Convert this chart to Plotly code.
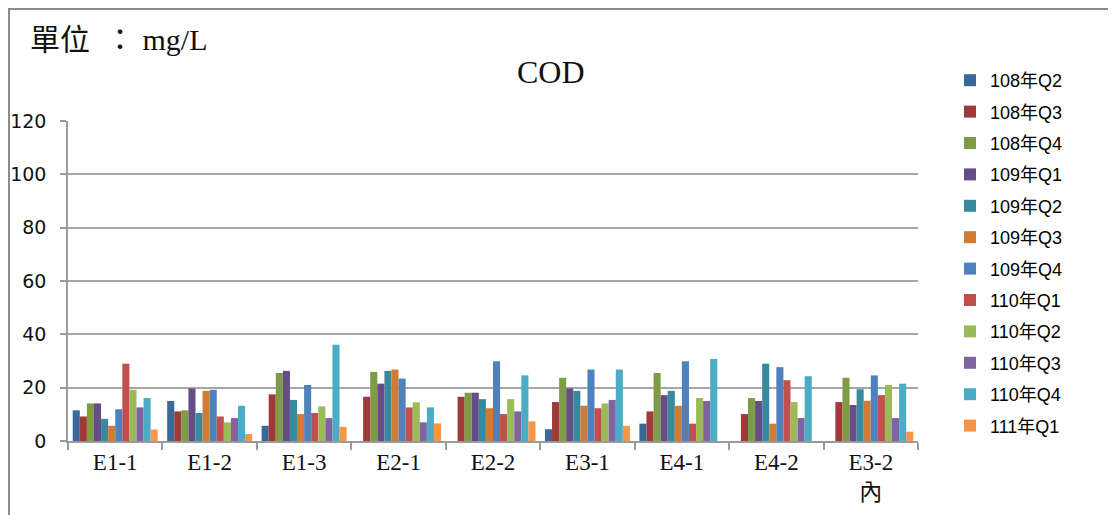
import plotly.graph_objects as go

categories = ["E1-1", "E1-2", "E1-3", "E2-1", "E2-2", "E3-1", "E4-1", "E4-2", "E3-2<br>內"]
series_names = ["108年Q2", "108年Q3", "108年Q4", "109年Q1", "109年Q2", "109年Q3",
                "109年Q4", "110年Q1", "110年Q2", "110年Q3", "110年Q4", "111年Q1"]

y108q2 = [11.5, 15.0, 5.7, None, None, 4.4, 6.5, None, None]
y108q3 = [9.2, 11.1, 17.5, 16.6, 16.6, 14.6, 11.1, 10.1, 14.6]
y108q4 = [14.1, 11.5, 25.5, 25.9, 18.1, 23.7, 25.5, 16.1, 23.7]
y109q1 = [14.1, 19.7, 26.3, 21.5, 18.1, 19.7, 17.2, 15.0, 13.5]
y109q2 = [8.3, 10.5, 15.4, 26.3, 15.7, 18.8, 18.8, 29.0, 19.4]
y109q3 = [5.7, 18.8, 10.1, 26.8, 12.3, 13.2, 13.2, 6.5, 15.1]
y109q4 = [11.9, 19.2, 21.0, 23.4, 29.9, 26.8, 29.9, 27.7, 24.6]
y110q1 = [29.0, 9.2, 10.5, 12.6, 10.1, 12.3, 6.5, 22.8, 17.2]
y110q2 = [19.2, 7.0, 13.0, 14.5, 15.7, 14.1, 16.1, 14.6, 21.0]
y110q3 = [12.6, 8.6, 8.6, 7.0, 11.1, 15.4, 15.0, 8.6, 8.6]
y110q4 = [16.1, 13.2, 36.1, 12.6, 24.6, 26.8, 30.8, 24.3, 21.5]
y111q1 = [4.3, 2.6, 5.3, 6.6, 7.4, 5.7, None, None, 3.5]

series_values = [y108q2, y108q3, y108q4, y109q1, y109q2, y109q3,
                 y109q4, y110q1, y110q2, y110q3, y110q4, y111q1]
colors = ["#3D6699", "#9E3B38", "#7E9B45", "#664D86", "#378A9E", "#D07B36",
          "#4F81BD", "#C0504D", "#9BBB59", "#8064A2", "#4BACC6", "#F79646"]

y_ticks = [0, 20, 40, 60, 80, 100, 120]

fig = go.Figure()
for i, (name, vals) in enumerate(zip(series_names, series_values)):
    fig.add_trace(go.Bar(
        x=categories, y=vals, name=name,
        marker=dict(color=colors[i], line=dict(width=0)),
        legendgroup=f"g{i}",
    ))

# page has an 8px body margin; figure coordinates = page coordinates - 8
OFF = 8
W, H = 1116 - OFF, 515 - OFF
L, R, T, B = 68 - OFF, 1116 - 918, 121 - OFF, 515 - 441
pw, ph = W - L - R, H - T - B

def px_x(px):
    return (px - OFF - L) / pw

def px_y(py):
    return (H - B - (py - OFF)) / ph

fig.update_layout(
    width=W, height=H,
    margin=dict(l=L, r=R, t=T, b=B, autoexpand=False),
    paper_bgcolor="white", plot_bgcolor="white",
    barmode="group", bargap=0.1, bargroupgap=0,
    showlegend=True,
    legend=dict(
        x=px_x(950), xanchor="left", y=px_y(62), yanchor="top",
        font=dict(family="Liberation Sans, Noto Sans CJK TC", size=18, color="#000"),
        tracegroupgap=5, itemwidth=30,
        bgcolor="rgba(0,0,0,0)",
        maxheight=500,
    ),
    xaxis=dict(
        type="category", automargin=False,
        showline=True, linecolor="#9A9A9A", linewidth=1.5,
        ticks="outside", tickson="boundaries", ticklen=7, tickcolor="#9A9A9A", tickwidth=1.5,
        tickfont=dict(family="Liberation Serif, Noto Sans CJK TC", size=23, color="#111"),
        showgrid=False,
    ),
    yaxis=dict(
        range=[0, 120], tickvals=y_ticks, ticktext=[str(v) for v in y_ticks],
        automargin=False,
        showline=True, linecolor="#9A9A9A", linewidth=1.5,
        ticks="outside", ticklen=6, tickcolor="#9A9A9A", tickwidth=1.5,
        showgrid=True, gridcolor="#A6A6A6", gridwidth=1.5,
        tickfont=dict(family="DejaVu Sans", size=19, color="#111"),
        ticklabelstandoff=10,
        zeroline=False,
    ),
    annotations=[
        dict(text="COD", x=px_x(551), y=px_y(72), xref="paper", yref="paper",
             showarrow=False, xanchor="center", yanchor="middle",
             font=dict(family="Liberation Serif", size=32, color="#111")),
        dict(text="單位\u00a0\u00a0：\u00a0mg/L", x=px_x(28), y=px_y(40), xref="paper", yref="paper",
             showarrow=False, xanchor="left", yanchor="middle",
             font=dict(family="Liberation Serif, Noto Sans CJK TC", size=30, color="#111")),
    ],
    shapes=[
        dict(type="line", xref="paper", yref="paper", x0=px_x(8), x1=px_x(1116),
             y0=px_y(9), y1=px_y(9), line=dict(color="#8C8C8C", width=2)),
        dict(type="line", xref="paper", yref="paper", x0=px_x(9), x1=px_x(9),
             y0=px_y(9), y1=px_y(515), line=dict(color="#8C8C8C", width=2)),
    ],
)

fig.write_html("out.html")
